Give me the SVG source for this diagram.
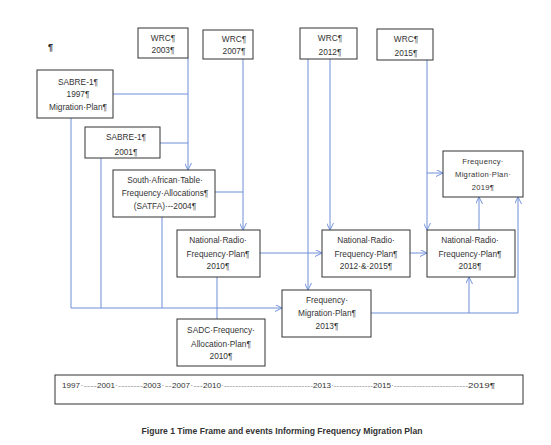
<svg xmlns="http://www.w3.org/2000/svg" width="551" height="445" viewBox="0 0 551 445">
<defs>
<style>
.box{fill:#fff;stroke:#333;stroke-width:1}
.t{font-family:"Liberation Sans",Arial,sans-serif;font-size:8.3px;fill:#333;text-anchor:middle}
.c{fill:none;stroke:#6f8fd8;stroke-width:1}
.tl{font-family:"Liberation Sans",Arial,sans-serif;font-size:8px;fill:#333}
.dash{font-family:"Liberation Sans",Arial,sans-serif;font-size:8px;fill:#888}
.cap{font-family:"Liberation Sans",Arial,sans-serif;font-size:8.5px;font-weight:bold;fill:#333;text-anchor:middle}
</style>
<marker id="ah" viewBox="0 0 10 10" refX="10" refY="5" markerWidth="7" markerHeight="7" markerUnits="userSpaceOnUse" orient="auto">
<path d="M0,0 L10,5 L0,10" fill="none" stroke="#6f8fd8" stroke-width="1.4"/>
</marker>
</defs>
<rect width="551" height="445" fill="#fff"/>
<text x="48" y="50" style="font-family:'Liberation Sans',Arial,sans-serif;font-size:9px;font-weight:bold;fill:#222">¶</text>

<g id="connectors">
<path class="c" d="M113,94 H188"/>
<path class="c" d="M160,143 H188"/>
<path class="c" d="M188,58 V170" marker-end="url(#ah)"/>
<path class="c" d="M215,192 H243"/>
<path class="c" d="M243,59 V230" marker-end="url(#ah)"/>
<path class="c" d="M71,118 V308"/>
<path class="c" d="M101,158 V308"/>
<path class="c" d="M162,217 V308"/>
<path class="c" d="M71,308 H282" marker-end="url(#ah)"/>
<path class="c" d="M260,253 H322" marker-end="url(#ah)"/>
<path class="c" d="M217,277 V319"/>
<path class="c" d="M330,59 V230" marker-end="url(#ah)"/>
<path class="c" d="M308,59 V290" marker-end="url(#ah)"/>
<path class="c" d="M410,253 H427" marker-end="url(#ah)"/>
<path class="c" d="M427,60 V230" marker-end="url(#ah)"/>
<path class="c" d="M427,173 H443" marker-end="url(#ah)"/>
<path class="c" d="M479,230 V197" marker-end="url(#ah)"/>
<path class="c" d="M371,313 H518 V197" marker-end="url(#ah)"/>
<path class="c" d="M469,313 V277" marker-end="url(#ah)"/>
</g>

<g id="wrc2003"><rect class="box" x="138" y="28" width="50" height="30"/>
<text class="t" x="163" y="41">WRC¶</text><text class="t" x="163" y="53">2003¶</text></g>
<g id="wrc2007"><rect class="box" x="203" y="30" width="50" height="29"/>
<text class="t" x="234" y="42">WRC¶</text><text class="t" x="234" y="54">2007¶</text></g>
<g id="wrc2012"><rect class="box" x="300" y="28" width="57" height="31"/>
<text class="t" x="330" y="41">WRC¶</text><text class="t" x="330" y="55">2012¶</text></g>
<g id="wrc2015"><rect class="box" x="377" y="29" width="56" height="31"/>
<text class="t" x="406" y="42">WRC¶</text><text class="t" x="406" y="56">2015¶</text></g>
<g id="sabre1997"><rect class="box" x="37" y="70" width="76" height="48"/>
<text class="t" x="78" y="84.5">SABRE-1¶</text><text class="t" x="78" y="97">1997¶</text><text class="t" x="78" y="109.5">Migration·Plan¶</text></g>
<g id="sabre2001"><rect class="box" x="85" y="127" width="75" height="31"/>
<text class="t" x="126" y="139.5">SABRE-1¶</text><text class="t" x="126" y="154.5">2001¶</text></g>
<g id="satfa"><rect class="box" x="113" y="170" width="102" height="47"/>
<text class="t" x="165" y="183">South·African·Table·</text><text class="t" x="165" y="195.5">Frequency·Allocations¶</text><text class="t" x="165" y="208.5">(SATFA)·--2004¶</text></g>
<g id="nrfp2010"><rect class="box" x="177" y="230" width="83" height="47"/>
<text class="t" x="218" y="243">National·Radio·</text><text class="t" x="218" y="257">Frequency·Plan¶</text><text class="t" x="218" y="269">2010¶</text></g>
<g id="sadc"><rect class="box" x="177" y="319" width="88" height="47"/>
<text class="t" x="221" y="333">SADC·Frequency·</text><text class="t" x="221" y="347">Allocation·Plan¶</text><text class="t" x="221" y="359">2010¶</text></g>
<g id="nrfp2012"><rect class="box" x="322" y="230" width="88" height="47"/>
<text class="t" x="366" y="243">National·Radio·</text><text class="t" x="366" y="257">Frequency·Plan¶</text><text class="t" x="366" y="269">2012·&amp;·2015¶</text></g>
<g id="nrfp2018"><rect class="box" x="427" y="230" width="88" height="47"/>
<text class="t" x="470" y="243">National·Radio·</text><text class="t" x="470" y="257">Frequency·Plan¶</text><text class="t" x="470" y="269">2018¶</text></g>
<g id="fmp2013"><rect class="box" x="282" y="290" width="89" height="47"/>
<text class="t" x="327" y="303">Frequency·</text><text class="t" x="327" y="316">Migration·Plan¶</text><text class="t" x="327" y="329">2013¶</text></g>
<g id="fmp2019"><rect class="box" x="443" y="151" width="80" height="46"/>
<text class="t" x="483" y="163.5" style="font-size:7.6px;letter-spacing:0.3px">Frequency·</text><text class="t" x="483" y="177" style="font-size:7.6px;letter-spacing:0.3px">Migration·Plan·</text><text class="t" x="483" y="190" style="font-size:7.6px;letter-spacing:0.3px">2019¶</text></g>

<g id="timeline"><rect class="box" x="55" y="375" width="468" height="29"/>
<text class="tl" x="62" y="388" textLength="18" lengthAdjust="spacingAndGlyphs">1997</text>
<text class="dash" x="80" y="388" textLength="17" lengthAdjust="spacingAndGlyphs">·----</text>
<text class="tl" x="97" y="388" textLength="18" lengthAdjust="spacingAndGlyphs">2001</text>
<text class="dash" x="115" y="388" textLength="28" lengthAdjust="spacingAndGlyphs">·--------</text>
<text class="tl" x="143" y="388" textLength="18" lengthAdjust="spacingAndGlyphs">2003</text>
<text class="dash" x="161" y="388" textLength="11" lengthAdjust="spacingAndGlyphs">·--</text>
<text class="tl" x="172" y="388" textLength="18" lengthAdjust="spacingAndGlyphs">2007</text>
<text class="dash" x="190" y="388" textLength="13" lengthAdjust="spacingAndGlyphs">·---</text>
<text class="tl" x="203" y="388" textLength="18" lengthAdjust="spacingAndGlyphs">2010</text>
<text class="dash" x="221" y="388" textLength="92" lengthAdjust="spacingAndGlyphs">·-------------------------------</text>
<text class="tl" x="313" y="388" textLength="18" lengthAdjust="spacingAndGlyphs">2013</text>
<text class="dash" x="331" y="388" textLength="42" lengthAdjust="spacingAndGlyphs">·--------------</text>
<text class="tl" x="373" y="388" textLength="18" lengthAdjust="spacingAndGlyphs">2015</text>
<text class="dash" x="391" y="388" textLength="77" lengthAdjust="spacingAndGlyphs">·--------------------------</text>
<text class="tl" x="468" y="388" textLength="27" lengthAdjust="spacingAndGlyphs">2019¶</text>
</g>

<text class="cap" x="282" y="434" textLength="281" lengthAdjust="spacingAndGlyphs">Figure 1 Time Frame and events Informing Frequency Migration Plan</text>
</svg>
